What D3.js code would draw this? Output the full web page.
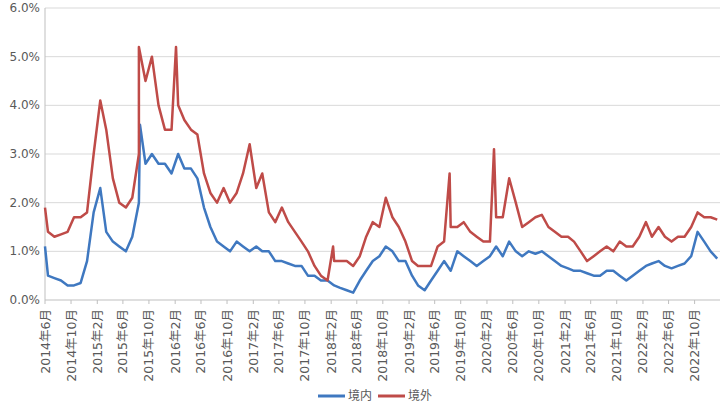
<!DOCTYPE html>
<html><head><meta charset="utf-8">
<script src="https://cdn.jsdelivr.net/npm/d3@7"></script>
<style>body{margin:0;background:#fff;font-family:"DejaVu Sans","Noto Sans CJK SC",sans-serif}</style>
</head><body><svg id="c" width="721" height="405"></svg>
<script>
// monthly values, Jun 2014 .. Jan 2023
const startMonth = '2014-06';
const domestic = [0.5,0.45,0.4,0.3,0.3,0.35,0.8,1.8,2.3,1.4,1.2,1.1,1.0,1.3,2.0,2.8,3.0,2.8,2.8,2.6,3.0,2.7,2.7,2.5,1.9,1.5,1.2,1.1,1.0,1.2,1.1,1.0,1.1,1.0,1.0,0.8,0.8,0.75,0.7,0.7,0.5,0.5,0.4,0.4,0.3,0.25,0.2,0.15,0.4,0.6,0.8,0.9,1.1,1.0,0.8,0.8,0.5,0.3,0.2,0.4,0.6,0.8,0.6,1.0,0.9,0.8,0.7,0.8,0.9,1.1,0.9,1.2,1.0,0.9,1.0,0.95,1.0,0.9,0.8,0.7,0.65,0.6,0.6,0.55,0.5,0.5,0.6,0.6,0.5,0.4,0.5,0.6,0.7,0.75,0.8,0.7,0.65,0.7,0.75,0.9,1.4,1.2,1.0,0.85];
const overseas = [1.4,1.3,1.35,1.4,1.7,1.7,1.8,3.0,4.1,3.5,2.5,2.0,1.9,2.1,3.0,4.5,5.0,4.0,3.5,3.5,4.0,3.7,3.5,3.4,2.6,2.2,2.0,2.3,2.0,2.2,2.6,3.2,2.3,2.6,1.8,1.6,1.9,1.6,1.4,1.2,1.0,0.7,0.5,0.4,0.8,0.8,0.8,0.7,0.9,1.3,1.6,1.5,2.1,1.7,1.5,1.2,0.8,0.7,0.7,0.7,1.1,1.2,1.5,1.5,1.6,1.4,1.3,1.2,1.2,1.7,1.7,2.5,2.0,1.5,1.6,1.7,1.75,1.5,1.4,1.3,1.3,1.2,1.0,0.8,0.9,1.0,1.1,1.0,1.2,1.1,1.1,1.3,1.6,1.3,1.5,1.3,1.2,1.3,1.3,1.5,1.8,1.7,1.7,1.65];
// short spikes: [date, value]
const domesticSpikes = [['2014-06-01',1.1],['2015-08-20',3.6]];
const overseasSpikes = [['2014-06-01',1.9],['2015-08-15',5.2],['2016-02-05',5.2],['2018-02-10',1.1],['2019-08-10',2.6],['2020-03-05',3.1]];
const yTicks = [0,1,2,3,4,5,6];

const parse = d3.timeParse('%Y-%m-%d');
const start = d3.timeParse('%Y-%m')(startMonth);
function build(vals, spikes) {
  const pts = vals.map((v, i) => ({d: d3.timeDay.offset(d3.timeMonth.offset(start, i), 14), v}));
  spikes.forEach(([d, v]) => pts.push({d: parse(d), v}));
  pts.sort((a, b) => a.d - b.d);
  return pts;
}
const series = [
  {name: '境内', color: '#3f78c0', pts: build(domestic, domesticSpikes)},
  {name: '境外', color: '#bf4b48', pts: build(overseas, overseasSpikes)}
];

const svg = d3.select('#c');
const L = 45, R = 720, T = 8, B = 300;
const x = d3.scaleTime().domain([parse('2014-06-01'), parse('2023-01-28')]).range([L, R]);
const y = d3.scaleLinear().domain([0, 6]).range([B, T]);

svg.append('g').selectAll('line').data(yTicks.slice(1)).join('line')
  .attr('x1', L).attr('x2', R).attr('y1', d => y(d)).attr('y2', d => y(d))
  .attr('stroke', '#d9d9d9');
svg.append('g').selectAll('text').data(yTicks).join('text')
  .attr('x', L - 5).attr('y', d => y(d) + 4).attr('text-anchor', 'end')
  .attr('font-size', 12).attr('fill', '#595959').text(d => d.toFixed(1) + '%');

const xTicks = d3.timeMonth.range(parse('2014-06-01'), parse('2022-11-01'), 4);
const xa = svg.append('g');
xa.append('line').attr('x1', L).attr('x2', R).attr('y1', B).attr('y2', B).attr('stroke', '#bfbfbf');
xa.append('line').attr('x1', L).attr('x2', L).attr('y1', T).attr('y2', B).attr('stroke', '#bfbfbf');
xa.selectAll('line.t').data(xTicks).join('line').attr('class', 't')
  .attr('x1', d => x(d)).attr('x2', d => x(d)).attr('y1', B).attr('y2', B + 4).attr('stroke', '#bfbfbf');
xa.selectAll('text').data(xTicks).join('text')
  .attr('transform', d => `translate(${x(d) + 4.5},${B + 9}) rotate(-90)`)
  .attr('text-anchor', 'end').attr('font-size', 12.5).attr('fill', '#595959')
  .text(d => d3.timeFormat('%Y')(d) + '年' + (d.getMonth() + 1) + '月');

const line = d3.line().x(p => x(p.d)).y(p => y(p.v));
series.forEach(s => {
  svg.append('path').attr('d', line(s.pts)).attr('fill', 'none')
    .attr('stroke', s.color).attr('stroke-width', 2.5).attr('stroke-linejoin', 'round');
});

const lg = svg.append('g');
series.forEach((s, i) => {
  const lx = 318 + i * 60;
  lg.append('line').attr('x1', lx).attr('x2', lx + 27).attr('y1', 396).attr('y2', 396)
    .attr('stroke', s.color).attr('stroke-width', 3);
  lg.append('text').attr('x', lx + 30).attr('y', 400).attr('font-size', 12)
    .attr('fill', '#595959').text(s.name);
});
</script></body></html>
